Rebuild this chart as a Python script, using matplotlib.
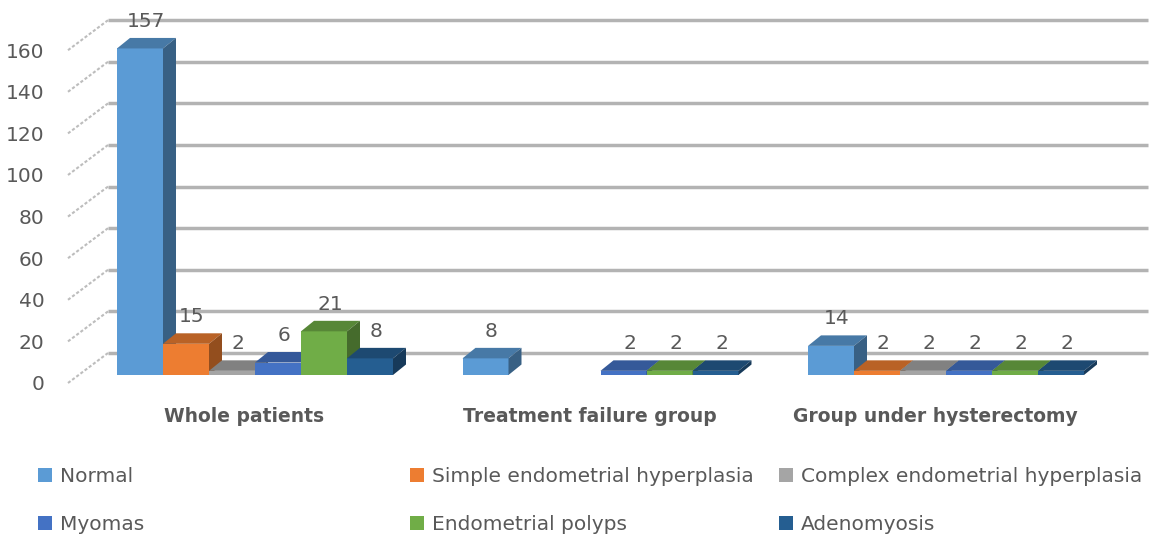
import numpy as np
from matplotlib import pyplot as plt
from matplotlib.patches import Polygon, Patch
import matplotlib.colors as mcolors

# data
groups = ["Whole patients", "Treatment failure group", "Group under hysterectomy"]
series = ["Normal", "Simple endometrial hyperplasia", "Complex endometrial hyperplasia",
          "Myomas", "Endometrial polyps", "Adenomyosis"]
normal = [157, 8, 14]
simple = [15, None, 2]
complex_ = [2, None, 2]
myomas = [6, 2, 2]
polyps = [21, 2, 2]
adeno = [8, 2, 2]
values = [normal, simple, complex_, myomas, polyps, adeno]
colors = ["#5B9BD5", "#ED7D31", "#A5A5A5", "#4472C4", "#70AD47", "#255E91"]
yticks = list(range(0, 161, 20))

txt = "#595959"

# geometry (pixels)
W, H = 1153, 537
PX_X = 345.5      # pixels per group
PX_Y = 2.08       # pixels per unit
x0px = 255        # pixel of group 0 centre
base_px = 375     # bar base (from top)
ax_l, ax_r, ax_t, ax_b = 60, 1153, 5, 395

fig = plt.figure(figsize=(W / 100, H / 100), dpi=100)
pos = [ax_l / W, (H - ax_b) / H, (ax_r - ax_l) / W, (ax_b - ax_t) / H]

# axis plane (front wall ticks), 8 px lower than bar base
ax2 = fig.add_axes(pos)
ax = fig.add_axes(pos)
xlim = ((ax_l - x0px) / PX_X, (ax_r - x0px) / PX_X)
ax.set_xlim(xlim)
ax.set_ylim((base_px - ax_b) / PX_Y, (base_px - ax_t) / PX_Y)
ax2.set_xlim(xlim)
ax2.set_ylim((base_px + 8 - ax_b) / PX_Y, (base_px + 8 - ax_t) / PX_Y)
for a in (ax, ax2):
    for s in a.spines.values():
        s.set_visible(False)
ax.patch.set_visible(False)

# back wall gridlines and side wall dashes
wall_dx = 40 / PX_X
wall_dy = 30 / PX_Y
xf = (68 - x0px) / PX_X
xr = (1148 - x0px) / PX_X
for t in yticks:
    ax2.plot([xf, xf + wall_dx], [t, t + wall_dy], color="#bdbdbd", lw=1.5,
             ls=(0, (1.5, 1)), solid_capstyle="butt")
    ax2.plot([xf + wall_dx, xr], [t + wall_dy, t + wall_dy], color="#b3b3b3", lw=2.5,
             solid_capstyle="butt")
ax2.set_yticks(yticks)
ax2.set_yticklabels([str(t) for t in yticks])
ax2.tick_params(axis="y", length=0, pad=11, labelsize=14.5, labelcolor=txt)
ax2.set_xticks([])

# 3d-ish bars
w = 46 / PX_X
ddx = 13 / PX_X
ddy = 10.5 / PX_Y


def shade(c, f):
    r, g, b = mcolors.to_rgb(c)
    return (r * f, g * f, b * f)


z = 3
for g in range(len(groups)):
    for j, vals in enumerate(values):
        v = vals[g]
        if v is None:
            continue
        xl = g + (j - 3) * w
        c = colors[j]
        ax.bar(xl, v, w, align="edge", color=c, zorder=z, linewidth=0)
        ax.add_patch(Polygon([(xl, v), (xl + w, v), (xl + w + ddx, v + ddy), (xl + ddx, v + ddy)],
                             closed=True, facecolor=shade(c, 0.78), edgecolor="none", zorder=z))
        ax.add_patch(Polygon([(xl + w, 0), (xl + w + ddx, ddy), (xl + w + ddx, v + ddy), (xl + w, v)],
                             closed=True, facecolor=shade(c, 0.62), edgecolor="none", zorder=z))
        ax.annotate(str(v), (xl + w / 2, v), xytext=(6, 27), textcoords="offset pixels",
                    ha="center", va="center", fontsize=14.5, color=txt, zorder=20)
        z += 1

ax.set_yticks([])
ax.set_xticks([g - 11 / PX_X for g in range(len(groups))])
ax.set_xticklabels(groups, fontsize=13.5, fontweight="bold", color=txt)
ax.tick_params(axis="x", length=0, pad=9)

# legend, three columns
cols = [(0, 3, 38), (1, 4, 410), (2, 5, 779)]
for a_, b_, xpx in cols:
    hs = [Patch(facecolor=colors[k], edgecolor="none") for k in (a_, b_)]
    fig.legend(hs, [series[a_], series[b_]], loc="upper left",
               bbox_to_anchor=(xpx / W, (H - 467) / H), frameon=False,
               fontsize=14.5, labelcolor=txt, handlelength=0.7, handleheight=0.7,
               handletextpad=0.4, labelspacing=1.45, borderpad=0, borderaxespad=0)

fig.savefig("out.png", dpi=100)
